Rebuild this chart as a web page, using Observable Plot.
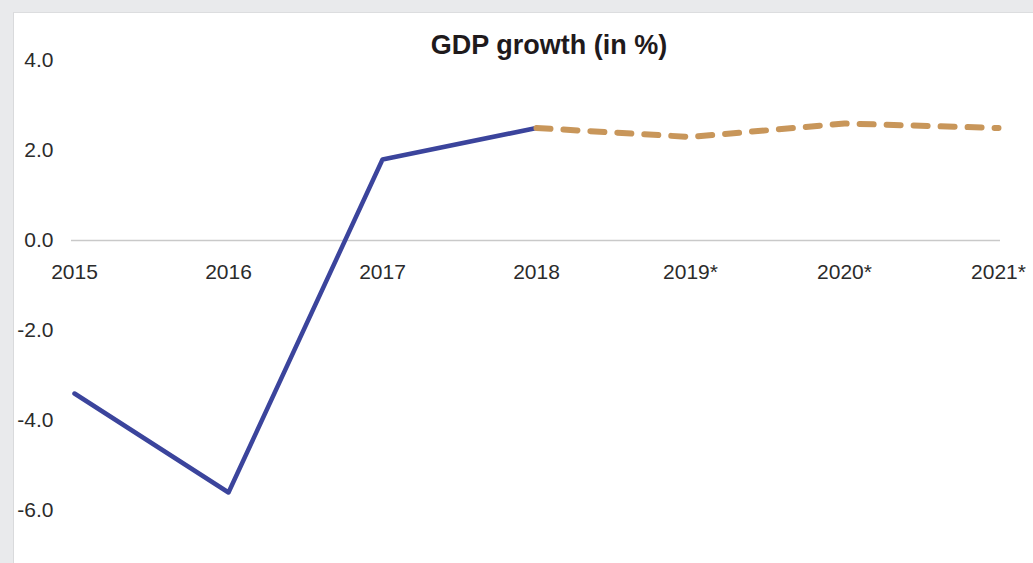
<!DOCTYPE html>
<html>
<head>
<meta charset="utf-8">
<script src="https://cdn.jsdelivr.net/npm/d3@7"></script>
<script src="https://cdn.jsdelivr.net/npm/@observablehq/plot@0.6"></script>
<style>
  html, body { margin: 0; padding: 0; background: #e9eaec; }
  #wrap { position: relative; width: 1033px; height: 563px; overflow: hidden; }
  #card { position: absolute; left: 13px; top: 12px; right: -10px; bottom: -10px; background: #ffffff; border-left: 1px solid #d9dadc; border-top: 1px solid #dcdddf; }
  #chart { position: absolute; left: 0; top: 0; }
</style>
</head>
<body>
<div id="wrap"><div id="card"></div><div id="chart"></div></div>
<script>
const title = "GDP growth (in %)";
const years = ["2015", "2016", "2017", "2018", "2019*", "2020*", "2021*"];
const gdp = [-3.4, -5.6, 1.8, 2.5, 2.3, 2.6, 2.5];
const actualYears = ["2015", "2016", "2017", "2018"];
const forecastYears = ["2018", "2019*", "2020*", "2021*"];
const yTicks = [-6, -4, -2, 0, 2, 4];

const rows = years.map((year, i) => ({year, value: gdp[i]}));
const actual = rows.filter(d => actualYears.includes(d.year));
const forecast = rows.filter(d => forecastYears.includes(d.year));

const font = "'Liberation Sans', Arial, sans-serif";

const chart = Plot.plot({
  width: 1033,
  height: 563,
  marginLeft: 71,
  marginRight: 33,
  marginTop: 60,
  marginBottom: 53,
  style: {fontFamily: font, fontSize: "21px", color: "#2b2b2b", background: "transparent", overflow: "visible"},
  x: {type: "point", domain: years, padding: 0, axis: null},
  y: {domain: [-6, 4], axis: null},
  marks: [
    Plot.ruleY([0], {stroke: "#c9c9c9", strokeWidth: 1.5}),
    Plot.axisY({ticks: yTicks, tickFormat: d => d.toFixed(1), tickSize: 0, tickPadding: 18, fontSize: 21, fill: "#2b2b2b", label: null}),
    Plot.text(years, {x: d => d, y: 0, dy: 32, text: d => d, fontSize: 21, fill: "#2b2b2b", textAnchor: "middle", lineAnchor: "middle"}),
    Plot.line(actual, {x: "year", y: "value", stroke: "#3b449c", strokeWidth: 4.5, strokeLinejoin: "round"}),
    Plot.line(forecast, {x: "year", y: "value", stroke: "#c8965a", strokeWidth: 6, strokeDasharray: "14,13", strokeLinecap: "round", strokeLinejoin: "round"}),
    Plot.text([title], {frameAnchor: "top", dx: 13, dy: -15, text: d => d, fontSize: 27, fontWeight: "bold", fill: "#1f1a1c", lineAnchor: "middle"})
  ]
});
document.getElementById("chart").appendChild(chart);
</script>
</body>
</html>
